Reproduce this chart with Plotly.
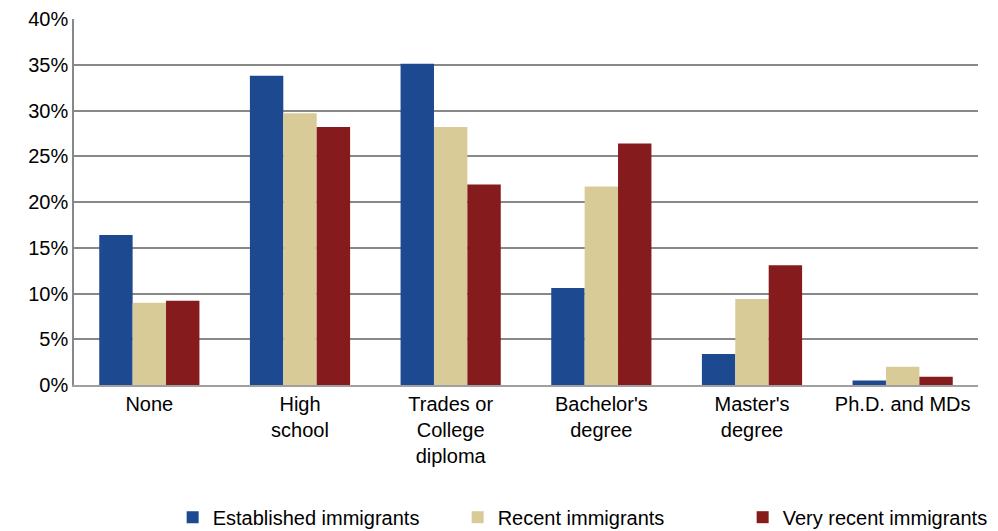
import plotly.graph_objects as go

categories = ["None", "High<br>school", "Trades or<br>College<br>diploma", "Bachelor's<br>degree", "Master's<br>degree", "Ph.D. and MDs"]
established = [16.4, 33.8, 35.1, 10.6, 3.4, 0.5]
recent = [9.0, 29.7, 28.2, 21.7, 9.4, 2.0]
very_recent = [9.2, 28.2, 21.9, 26.4, 13.1, 0.9]
series_names = ["Established immigrants", "Recent immigrants", "Very recent immigrants"]
colors = ["#1D4990", "#D9CB98", "#861B1D"]
y_ticks = [0, 5, 10, 15, 20, 25, 30, 35, 40]
y_tick_labels = ["0%", "5%", "10%", "15%", "20%", "25%", "30%", "35%", "40%"]

fig = go.Figure()
for name, vals, col in zip(series_names, [established, recent, very_recent], colors):
    fig.add_trace(go.Bar(x=categories, y=vals, name=name, marker=dict(color=col, line=dict(width=0))))

font_family = "Liberation Sans, Arial, sans-serif"
fig.update_layout(
    width=998, height=531,
    margin=dict(l=74, r=20, t=19, b=146, autoexpand=False),
    paper_bgcolor="white", plot_bgcolor="white",
    barmode="group", bargap=0.335, bargroupgap=0,
    font=dict(family=font_family, size=20, color="#000000"),
    showlegend=True,
    legend=dict(orientation="h", xref="container", x=0.173, xanchor="left",
                yref="container", y=0.026, yanchor="middle",
                entrywidth=240, entrywidthmode="pixels",
                font=dict(size=20), itemwidth=30, traceorder="normal"),
    xaxis=dict(showline=True, linecolor="#A0A0A0", linewidth=2, ticks="",
               tickfont=dict(size=20), fixedrange=True, automargin=False),
    yaxis=dict(range=[0, 40], tickmode="array", tickvals=y_ticks, ticktext=y_tick_labels,
               showgrid=True, gridcolor="#888888", gridwidth=1.5, showline=True,
               linecolor="#888888", linewidth=1.5, ticks="", tickfont=dict(size=20),
               zeroline=False, automargin=False),
)
fig.write_html("out.html", config={"displayModeBar": False},
               post_script="document.body.style.margin='0';document.body.style.overflow='hidden';")
